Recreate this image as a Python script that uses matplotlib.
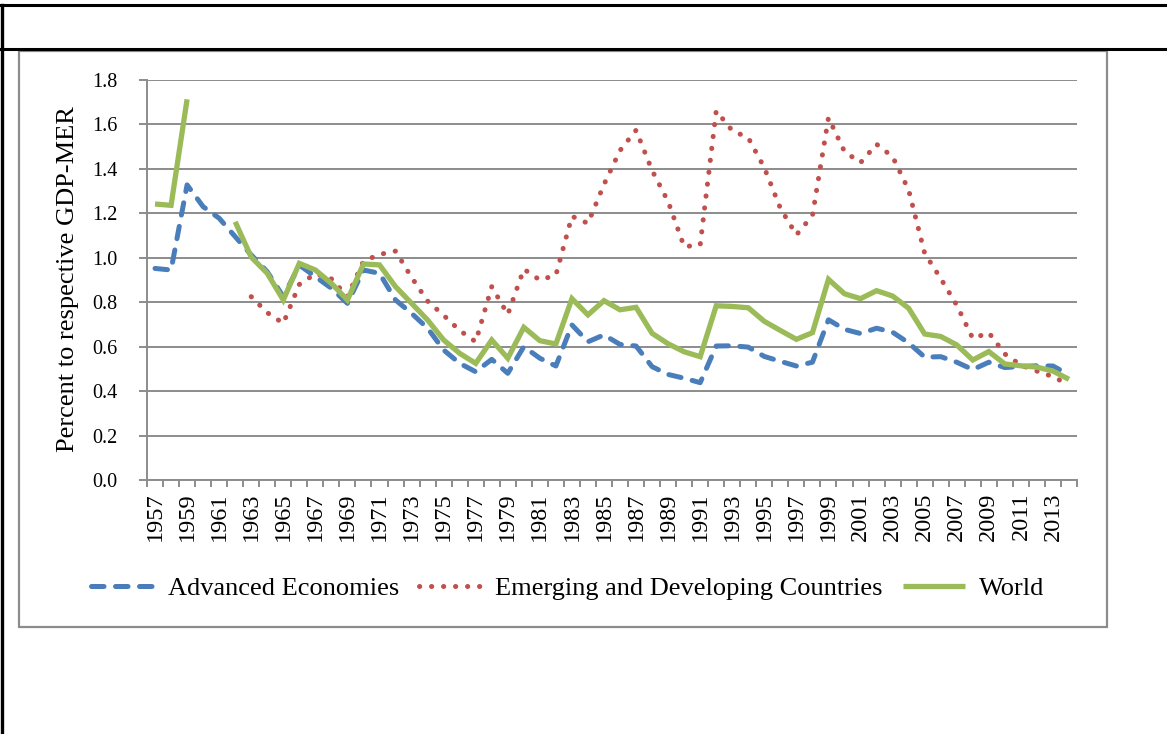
import numpy as np
import matplotlib
matplotlib.use("Agg")
import matplotlib.pyplot as plt
from matplotlib.lines import Line2D
from matplotlib.patches import Rectangle

plt.rcParams['font.family'] = ['Liberation Serif', 'DejaVu Serif']

years = list(range(1957, 2015))
nan = np.nan

advanced = [0.952, 0.945, 1.328, 1.23, 1.178, 1.095, 1.013, 0.937, 0.825, 0.967,
            0.915, 0.863, 0.795, 0.945, 0.93, 0.81, 0.75, 0.683, 0.585, 0.525,
            0.487, 0.543, 0.48, 0.60, 0.548, 0.513, 0.698, 0.622, 0.653, 0.61,
            0.603, 0.51, 0.475, 0.458, 0.438, 0.603, 0.604, 0.598, 0.556, 0.534,
            0.513, 0.53, 0.721, 0.678, 0.659, 0.683, 0.665, 0.617, 0.553, 0.555,
            0.53, 0.497, 0.53, 0.506, 0.511, 0.514, 0.513, 0.473]

emerging = [nan, nan, nan, nan, nan, nan, 0.825, 0.753, 0.705, 0.88,
            0.928, 0.905, 0.826, 0.985, 1.015, 1.03, 0.912, 0.805, 0.741, 0.673,
            0.622, 0.87, 0.745, 0.949, 0.90, 0.922, 1.187, 1.155, 1.33, 1.483,
            1.574, 1.393, 1.253, 1.05, 1.058, 1.661, 1.572, 1.54, 1.405, 1.223,
            1.103, 1.19, 1.63, 1.478, 1.428, 1.511, 1.455, 1.305, 1.02, 0.907,
            0.787, 0.637, 0.663, 0.567, 0.517, 0.49, 0.465, 0.428]

world = [1.242, 1.236, 1.713, nan, nan, 1.162, 1.003, 0.93, 0.81, 0.975,
         0.945, 0.885, 0.81, 0.972, 0.968, 0.87, 0.795, 0.72, 0.63, 0.57,
         0.525, 0.63, 0.548, 0.687, 0.627, 0.612, 0.816, 0.743, 0.807, 0.766,
         0.777, 0.66, 0.613, 0.577, 0.555, 0.784, 0.781, 0.775, 0.714, 0.673,
         0.633, 0.663, 0.903, 0.838, 0.816, 0.852, 0.828, 0.773, 0.657, 0.646,
         0.608, 0.54, 0.578, 0.522, 0.514, 0.508, 0.49, 0.453]

series_names = ["Advanced Economies", "Emerging and Developing Countries", "World"]
y_label = "Percent to respective GDP-MER"
y_ticks = [0.0, 0.2, 0.4, 0.6, 0.8, 1.0, 1.2, 1.4, 1.6, 1.8]

W, H = 1167, 734
fig = plt.figure(figsize=(W / 100, H / 100), dpi=100)


def fx(px):
    return px / W


def fy(py):
    return 1 - py / H


# outer document frame (black lines)
fig.add_artist(Line2D([0, 1], [fy(5), fy(5)], color='black', lw=2.2))
fig.add_artist(Line2D([0, 1], [fy(49), fy(49)], color='black', lw=2.2))
fig.add_artist(Line2D([fx(1.5), fx(1.5)], [0, fy(5)], color='black', lw=2.4))

# chart frame
frame = Rectangle((fx(18.5), fy(626.5)), fx(1107) - fx(18.5), fy(50.5) - fy(626.5),
                  transform=fig.transFigure, facecolor='white', edgecolor='#8c8c8c',
                  lw=1.6, zorder=1)
fig.add_artist(frame)

ax = fig.add_axes([fx(147), fy(480), fx(1077) - fx(147), fy(80) - fy(480)])
ax.set_zorder(2)
ax.patch.set_alpha(0)

x = np.arange(len(years))
grid_c = '#8c8c8c'
for v in y_ticks:
    ax.axhline(v, color=grid_c, lw=1.4, zorder=1)

ax.plot(x, advanced, color='#4a7ebb', lw=3.6, dashes=(2.5, 2.3),
        dash_capstyle='round', solid_capstyle='round', zorder=3, label=series_names[0])
ax.plot(x, emerging, color='#c0504d', lw=3.6, dashes=(0.05, 2.35),
        dash_capstyle='round', zorder=3, label=series_names[1])
ax.plot(x, world, color='#9bbb59', lw=3.8, solid_capstyle='butt',
        solid_joinstyle='miter', zorder=4, label=series_names[2])

ax.set_xlim(-0.5, len(years) - 0.5)
ax.set_ylim(0, 1.8)

ax.set_yticks(y_ticks)
ax.set_yticklabels([f"{v:.1f}" for v in y_ticks], fontsize=14.5)
ax.tick_params(axis='y', length=6, width=1.4, color=grid_c, pad=15, direction='out')

ax.set_xticks(np.arange(len(years) + 1) - 0.5)
ax.set_xticklabels([])
ax.set_xticks(x[::2], minor=True)
ax.set_xticklabels([str(years[i]) for i in x[::2]], minor=True, rotation=90,
                   fontsize=17.5, va='top')
ax.tick_params(axis='x', which='major', length=5, width=1.4, color=grid_c, direction='out')
ax.tick_params(axis='x', which='minor', length=0, pad=9)

for s in ['top', 'right']:
    ax.spines[s].set_visible(False)
ax.spines['left'].set_color(grid_c)
ax.spines['left'].set_linewidth(1.4)
ax.spines['bottom'].set_color(grid_c)
ax.spines['bottom'].set_linewidth(1.4)

fig.text(fx(68), fy(279), y_label, rotation=90, ha='center', va='center', fontsize=19,
         zorder=3)

handles, labels = ax.get_legend_handles_labels()
leg = fig.legend(handles, labels, loc='center', bbox_to_anchor=(fx(568), fy(588)),
                 ncol=3, frameon=False, fontsize=19, handlelength=2.35,
                 handletextpad=0.55, columnspacing=0.75)
leg.set_zorder(3)

fig.savefig("out.png", dpi=100)
